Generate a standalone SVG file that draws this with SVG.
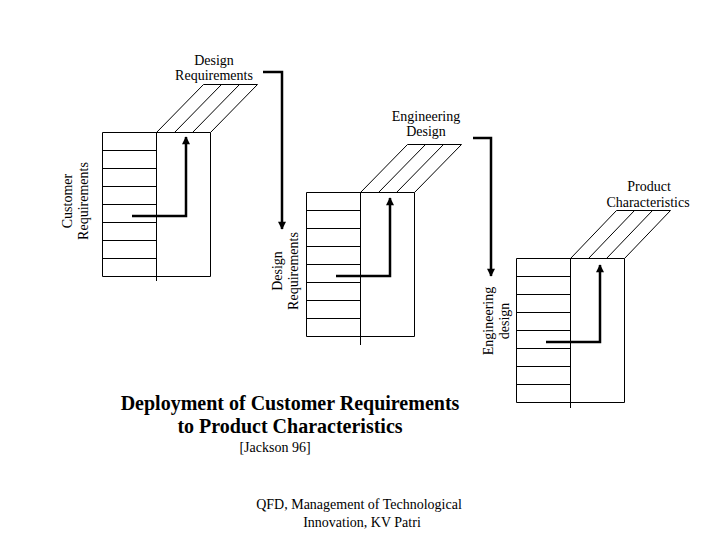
<svg xmlns="http://www.w3.org/2000/svg" width="720" height="540" viewBox="0 0 720 540">
<defs>
<style>
.thin{fill:none;stroke:#000;stroke-width:1}
.flow{fill:none;stroke:#000;stroke-width:2.5;marker-end:url(#ah)}
text{font-family:"Liberation Serif","Times New Roman",serif;fill:#000}
.lbl{font-size:14px;text-anchor:middle}
.title{font-size:20px;font-weight:bold;text-anchor:middle}
</style>
<marker id="ah" viewBox="0 0 10 10" refX="9" refY="5" markerUnits="userSpaceOnUse" markerWidth="9" markerHeight="8" orient="auto">
<path d="M0,0 L10,5 L0,10 z" fill="#000"/>
</marker>
</defs>
<rect width="720" height="540" fill="#fff"/>

<g id="block1">
<path class="thin" d="M102.5,132.5 H210.5 V276.5 H102.5 Z M156.5,132.5 V281 M102.5,150.5 H156.5 M102.5,168.5 H156.5 M102.5,186.5 H156.5 M102.5,204.5 H156.5 M102.5,222.5 H156.5 M102.5,240.5 H156.5 M102.5,258.5 H156.5"/>
<path class="thin" d="M156.5,132.5 L203.5,84.5 M174.5,132.5 L221.5,84.5 M192.5,132.5 L239.5,84.5 M210.5,132.5 L257.5,84.5 M203.5,84.5 H257.5"/>
<text class="lbl" x="214" y="65">Design</text>
<text class="lbl" x="214" y="80">Requirements</text>
<text class="lbl" transform="translate(72,201) rotate(-90)">Customer</text>
<text class="lbl" transform="translate(88,201) rotate(-90)">Requirements</text>
</g>

<g id="block2">
<path class="thin" d="M306.5,192.5 H414.5 V336.5 H306.5 Z M360.5,192.5 V345 M306.5,210.5 H360.5 M306.5,228.5 H360.5 M306.5,246.5 H360.5 M306.5,264.5 H360.5 M306.5,282.5 H360.5 M306.5,300.5 H360.5 M306.5,318.5 H360.5"/>
<path class="thin" d="M360.5,192.5 L407.5,144.5 M378.5,192.5 L425.5,144.5 M396.5,192.5 L443.5,144.5 M414.5,192.5 L461.5,144.5 M407.5,144.5 H461.5"/>
<text class="lbl" x="426" y="121">Engineering</text>
<text class="lbl" x="426" y="136">Design</text>
<text class="lbl" transform="translate(282,271) rotate(-90)">Design</text>
<text class="lbl" transform="translate(298,271) rotate(-90)">Requirements</text>
</g>

<g id="block3">
<path class="thin" d="M516.5,258.5 H624.5 V402.5 H516.5 Z M570.5,258.5 V408 M516.5,276.5 H570.5 M516.5,294.5 H570.5 M516.5,312.5 H570.5 M516.5,330.5 H570.5 M516.5,348.5 H570.5 M516.5,366.5 H570.5 M516.5,384.5 H570.5"/>
<path class="thin" d="M570.5,258.5 L616.5,210.5 M588.5,258.5 L634.5,210.5 M606.5,258.5 L652.5,210.5 M624.5,258.5 L670.5,210.5 M616.5,210.5 H670.5"/>
<text class="lbl" x="649" y="191">Product</text>
<text class="lbl" x="648" y="207">Characteristics</text>
<text class="lbl" transform="translate(493,321) rotate(-90)">Engineering</text>
<text class="lbl" transform="translate(509,321) rotate(-90)">design</text>
</g>

<g id="connectors">
<path class="flow" d="M132,216 H186 V137"/>
<path class="flow" d="M336,276 H390 V198"/>
<path class="flow" d="M546,342 H600 V265"/>
<path class="flow" d="M263,72 H282 V229"/>
<path class="flow" d="M473,138 H491 V276"/>
</g>

<g id="caption">
<text class="title" x="290" y="410">Deployment of Customer Requirements</text>
<text class="title" x="290" y="433">to Product Characteristics</text>
<text class="lbl" x="275" y="452">[Jackson 96]</text>
<text class="lbl" x="359" y="509">QFD, Management of Technological</text>
<text class="lbl" x="362" y="527">Innovation, KV Patri</text>
</g>
</svg>
